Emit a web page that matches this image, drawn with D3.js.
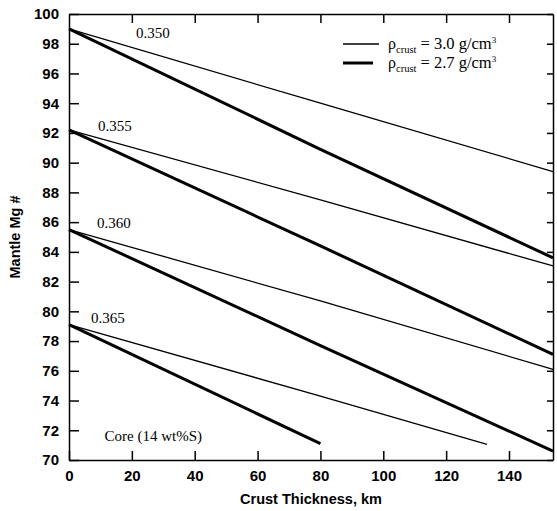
<!DOCTYPE html>
<html>
<head>
<meta charset="utf-8">
<script src="https://cdn.jsdelivr.net/npm/d3@7"></script>
<style>
	body { margin: 0; background: #fff; overflow: hidden; }
	svg { display: block; }
	.tick text { font-family: 'Liberation Sans', Arial, sans-serif; font-weight: bold; font-size: 15px; fill: #000; }
	.note { font-family: 'Liberation Serif', 'Times New Roman', serif; font-size: 15px; fill: #000; }
	.title { font-family: 'Liberation Sans', Arial, sans-serif; font-weight: bold; font-size: 14.5px; fill: #000; }
</style>
</head>
<body>
<svg></svg>
<script>
// crust thickness (km) sample points, and Mg # for each curve
const xThin = [0, 80, 154];
const xThick = [0, 80, 154];
const labels = ['0.350', '0.355', '0.360', '0.365'];
const thin350 = [99.0, 94.0, 89.4];
const thick350 = [99.0, 90.9, 83.6];
const thin355 = [92.2, 87.5, 83.05];
const thick355 = [92.2, 84.4, 77.1];
const thin360 = [85.5, 80.7, 76.1];
const thick360 = [85.5, 77.7, 70.6];
const xThin365 = [0, 80, 133];
const thin365 = [79.1, 74.3, 71.05];
const xThick365 = [0, 80];
const thick365 = [79.1, 71.1];
const xTicks = [0, 20, 40, 60, 80, 100, 120, 140];
const yTicks = [70, 72, 74, 76, 78, 80, 82, 84, 86, 88, 90, 92, 94, 96, 98, 100];

const series = [
	{ x: xThin, y: thin350, w: 1.3 },
	{ x: xThick, y: thick350, w: 3 },
	{ x: xThin, y: thin355, w: 1.3 },
	{ x: xThick, y: thick355, w: 3 },
	{ x: xThin, y: thin360, w: 1.3 },
	{ x: xThick, y: thick360, w: 3 },
	{ x: xThin365, y: thin365, w: 1.3 },
	{ x: xThick365, y: thick365, w: 3 }
];

const width = 557;
const height = 511;
const margin = { top: 14, right: 4, bottom: 51, left: 69 };
const innerWidth = width - margin.left - margin.right;
const innerHeight = height - margin.top - margin.bottom;

const svg = d3.select('svg')
	.attr('width', width)
	.attr('height', height);

const xScale = d3.scaleLinear().domain([0, 154]).range([0, innerWidth]);
const yScale = d3.scaleLinear().domain([70, 100]).range([innerHeight, 0]);

const g = svg.append('g')
	.attr('transform', `translate(${margin.left},${margin.top})`);

// bottom axis with labels, inward ticks
const xAxisGroup = g.append('g')
	.attr('transform', `translate(0,${innerHeight})`)
	.call(d3.axisBottom(xScale).tickValues(xTicks).tickSize(-9).tickPadding(16).tickSizeOuter(0));
// left axis with labels
const yAxisGroup = g.append('g')
	.call(d3.axisLeft(yScale).tickValues(yTicks).tickSize(-10).tickPadding(20).tickSizeOuter(0));
// top and right axes, no labels
const topAxis = g.append('g')
	.call(d3.axisTop(xScale).tickValues(xTicks.slice(1)).tickSize(-9).tickSizeOuter(0));
const rightAxis = g.append('g')
	.attr('transform', `translate(${innerWidth},0)`)
	.call(d3.axisRight(yScale).tickValues(yTicks).tickSize(-6).tickSizeOuter(0));
topAxis.selectAll('text').remove();
rightAxis.selectAll('text').remove();

[xAxisGroup, yAxisGroup, topAxis, rightAxis].forEach(a => {
	a.selectAll('path, line').attr('stroke', '#000').attr('stroke-width', 1.5);
});
xAxisGroup.selectAll('.tick text').attr('dy', '0.35em');
yAxisGroup.selectAll('.tick text').attr('dx', '10');

const lineGenerator = d3.line()
	.x(d => xScale(d[0]))
	.y(d => yScale(d[1]));

series.forEach(s => {
	g.append('path')
		.attr('d', lineGenerator(s.x.map((x, i) => [x, s.y[i]])))
		.attr('fill', 'none')
		.attr('stroke', '#000')
		.attr('stroke-width', s.w);
});

// curve labels
const labelPos = [[21.3, 98.4], [9.2, 92.1], [8.9, 85.6], [7.0, 79.2]];
labels.forEach((t, i) => {
	g.append('text')
		.attr('class', 'note')
		.attr('x', xScale(labelPos[i][0]))
		.attr('y', yScale(labelPos[i][1]))
		.text(t);
});

g.append('text')
	.attr('class', 'note')
	.attr('x', xScale(11.3))
	.attr('y', yScale(71.3))
	.text('Core (14 wt%S)');

// legend
const legend = [
	{ w: 1.3, y: 30, v: '3.0' },
	{ w: 3, y: 49, v: '2.7' }
];
legend.forEach(l => {
	g.append('line')
		.attr('x1', 274).attr('x2', l.w > 2 ? 304 : 310)
		.attr('y1', l.y).attr('y2', l.y)
		.attr('stroke', '#000').attr('stroke-width', l.w);
	const t = g.append('text')
		.attr('class', 'note')
		.attr('x', 319)
		.attr('y', l.y + 5);
	t.append('tspan').attr('font-size', 16).text('ρ');
	t.append('tspan').attr('font-size', 10.5).attr('dy', 4).text('crust');
	t.append('tspan').attr('font-size', 16.5).attr('dy', -4).text(` = ${l.v} g/cm`);
	t.append('tspan').attr('font-size', 9).attr('dy', -6).text('3');
});

// axis titles
svg.append('text')
	.attr('class', 'title')
	.attr('x', margin.left + innerWidth / 2)
	.attr('y', 504)
	.attr('text-anchor', 'middle')
	.text('Crust Thickness, km');

svg.append('text')
	.attr('class', 'title')
	.attr('transform', 'rotate(-90)')
	.attr('x', -(margin.top + innerHeight / 2))
	.attr('y', 20)
	.attr('text-anchor', 'middle')
	.text('Mantle Mg #');
</script>
</body>
</html>
